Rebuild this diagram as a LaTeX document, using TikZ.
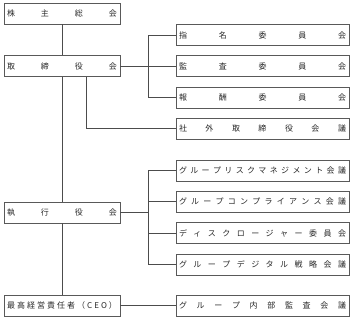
\documentclass[tikz,border=0pt]{standalone}
\usepackage{fontspec}
\newfontfamily\jp{Noto Sans CJK JP}
\tikzset{
  orgbox/.style={draw=black!65, line width=0.8pt, minimum height=21pt, inner ysep=0pt, inner xsep=3pt, text=black!85, font=\jp\fontsize{8}{9}\selectfont},
  leftbox/.style={orgbox, minimum width=116pt},
  rightbox/.style={orgbox, minimum width=173pt},
  conn/.style={draw=black!70, line width=0.8pt}
}
\newcommand\lbx[1]{\hbox to 110pt{#1}}
\newcommand\rbx[1]{\hbox to 167pt{#1}}
\newcommand\hf{\hfill}
\begin{document}
\begin{tikzpicture}[x=1pt,y=-1pt]
\useasboundingbox (0,0) rectangle (354,320);
% left column
\node[leftbox] (sh) at (62,13.5) {\lbx{株\hf 主\hf 総\hf 会}};
\node[leftbox] (tr) at (62,66) {\lbx{取\hf 締\hf 役\hf 会}};
\node[leftbox] (ex) at (62,212.5) {\lbx{執\hf 行\hf 役\hf 会}};
\node[leftbox] (ceo) at (62,305.5) {\lbx{最\hf 高\hf 経\hf 営\hf 責\hf 任\hf 者\hf （\hf C\hf E\hf O\hf ）}};
% right column
\node[rightbox] (r1) at (262.5,35) {\rbx{指\hf 名\hf 委\hf 員\hf 会}};
\node[rightbox] (r2) at (262.5,66) {\rbx{監\hf 査\hf 委\hf 員\hf 会}};
\node[rightbox] (r3) at (262.5,97.5) {\rbx{報\hf 酬\hf 委\hf 員\hf 会}};
\node[rightbox] (r4) at (262.5,128.5) {\rbx{社\hf 外\hf 取\hf 締\hf 役\hf 会\hf 議}};
\node[rightbox] (r5) at (262.5,170.5) {\rbx{グ\hf ル\hf ー\hf プ\hf リ\hf ス\hf ク\hf マ\hf ネ\hf ジ\hf メ\hf ン\hf ト\hf 会\hf 議}};
\node[rightbox] (r6) at (262.5,201.5) {\rbx{グ\hf ル\hf ー\hf プ\hf コ\hf ン\hf プ\hf ラ\hf イ\hf ア\hf ン\hf ス\hf 会\hf 議}};
\node[rightbox] (r7) at (262.5,233) {\rbx{デ\hf ィ\hf ス\hf ク\hf ロ\hf ー\hf ジ\hf ャ\hf ー\hf 委\hf 員\hf 会}};
\node[rightbox] (r8) at (262.5,264.5) {\rbx{グ\hf ル\hf ー\hf プ\hf デ\hf ジ\hf タ\hf ル\hf 戦\hf 略\hf 会\hf 議}};
\node[rightbox] (r9) at (262.5,305.5) {\rbx{グ\hf ル\hf ー\hf プ\hf 内\hf 部\hf 監\hf 査\hf 会\hf 議}};
\coordinate (bx) at (148,0);
\coordinate (sx) at (86,0);
% connectors
\draw[conn] (sh.south) -- (tr.north);
\draw[conn] (tr.south) -- (ex.north);
\draw[conn] (ex.south) -- (ceo.north);
\draw[conn] (tr.east) -- (r2.west);
\draw[conn] (r1.west) -- (r1.west -| bx) |- (r3.west);
\draw[conn] (tr.south -| sx) |- (r4.west);
\draw[conn] (r5.west) -- (r5.west -| bx) |- (r8.west);
\draw[conn] (r6.west) -- (r6.west -| bx);
\draw[conn] (r7.west) -- (r7.west -| bx);
\draw[conn] (ex.east) -- (ex.east -| bx);
\draw[conn] (ceo.east) -- (r9.west);
\end{tikzpicture}
\end{document}
